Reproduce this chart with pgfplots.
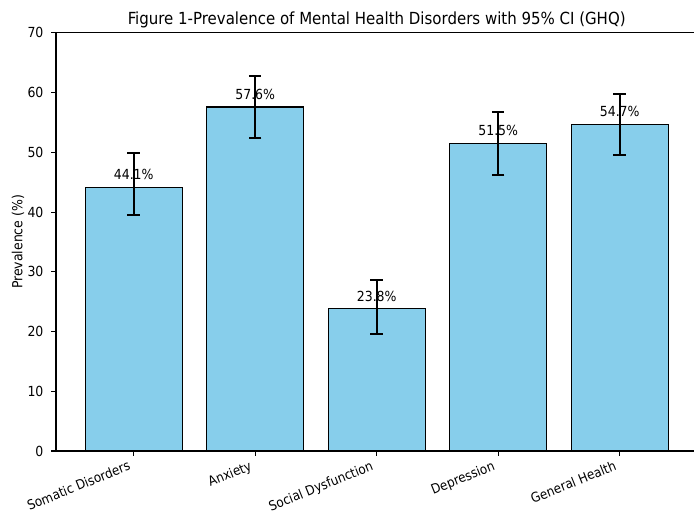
\documentclass[border=0pt]{standalone}
\usepackage{fontspec}
\setmainfont{DejaVu Sans Condensed}
\usepackage{pgfplots}
\pgfplotsset{compat=1.18}
\usepackage{pgfplotstable}
\definecolor{skyblue}{HTML}{87CEEB}

\pgfplotstableread{
x y ep em
0 44.1 5.8 4.6
1 57.6 5.2 5.2
2 23.8 4.8 4.2
3 51.5 5.2 5.3
4 54.7 5.1 5.1
}\datatable

\begin{document}
\begin{tikzpicture}
\begin{axis}[
  /pgf/number format/assume math mode=true,
  scale only axis,
  width=461.9pt, height=301pt,
  xmin=-0.64, xmax=4.64, ymin=0, ymax=70,
  ytick={0,10,...,70},
  xtick={0,1,2,3,4},
  xticklabels={Somatic Disorders, Anxiety, Social Dysfunction, Depression, General Health},
  x tick label style={rotate=22, anchor=north east, font=\fontsize{9.6}{11}\selectfont, inner sep=1pt, xshift=-4.3pt, yshift=0pt},
  y tick label style={font=\fontsize{10}{12}\selectfont, xshift=-2pt},
  tick align=outside,
  major tick length=3.5pt,
  tick pos=left,
  every tick/.style={black, line width=0.8pt},
  axis line style={black, line width=0.8pt},
  ylabel={Prevalence (\%)},
  every axis y label/.style={at={(axis description cs:-0.059,0.5)}, rotate=90, anchor=center, font=\fontsize{10}{12}\selectfont},
  title={Figure 1-Prevalence of Mental Health Disorders with 95\% CI (GHQ)},
  every axis title/.style={at={(axis description cs:0.5,1)}, anchor=base, yshift=5.8pt, font=\fontsize{12}{14}\selectfont},
  ybar, bar width=0.8,
  nodes near coords={\pgfmathprintnumber[fixed,fixed zerofill,precision=1]{\pgfplotspointmeta}\%},
  every node near coord/.append style={anchor=base, yshift=5.5pt, inner sep=0pt, font=\fontsize{10}{12}\selectfont, black},
]
\addplot[fill=skyblue, draw=black, line width=0.8pt,
  error bars/.cd, y dir=both, y explicit,
  error bar style={line width=1.5pt, black},
  error mark options={rotate=90, line width=1.5pt, mark size=4.5pt, black}]
  table[x=x, y=y, y error plus=ep, y error minus=em]{\datatable};
\end{axis}
\pgfresetboundingbox
\path (-40.3pt,-46.8pt) rectangle (459.4pt,324.7pt);
\end{tikzpicture}
\end{document}
